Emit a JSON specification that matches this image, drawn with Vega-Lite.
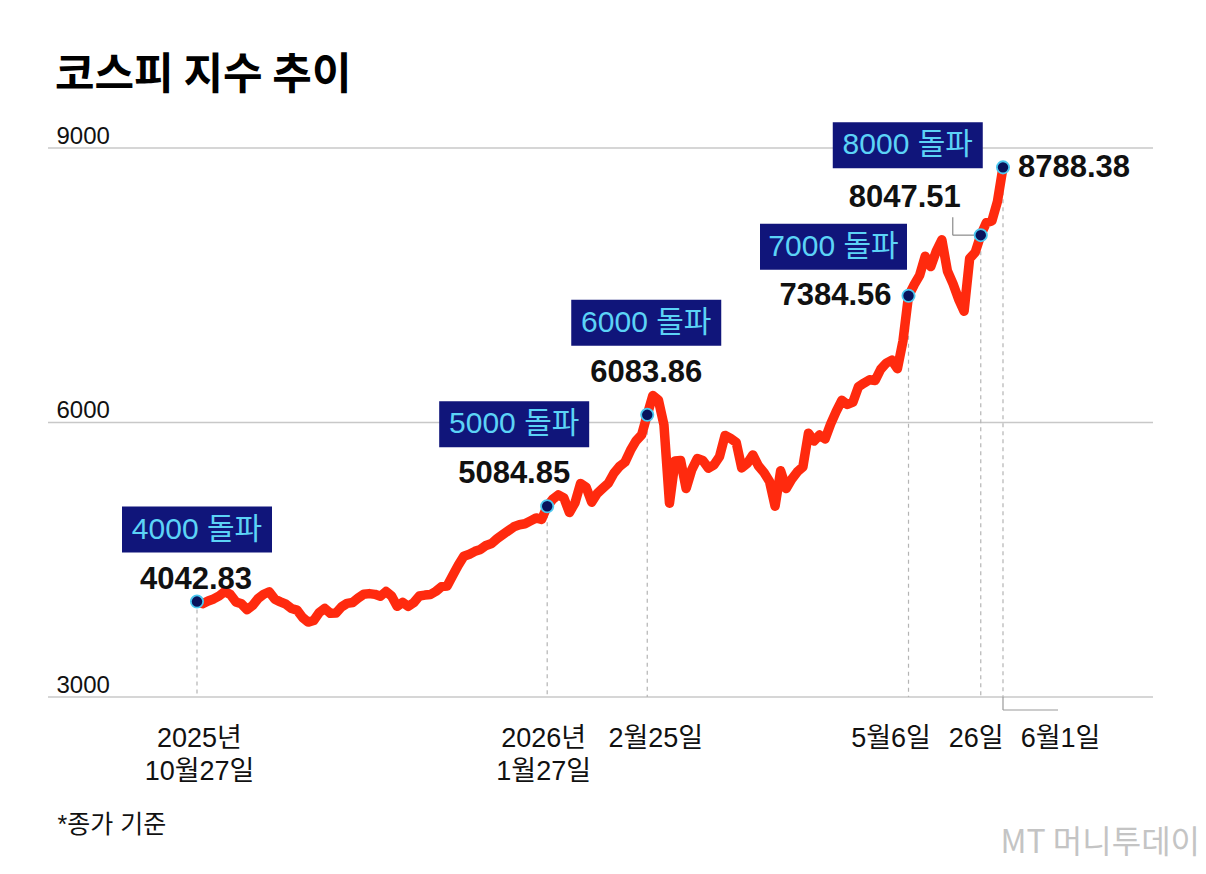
{
  "$schema": "https://vega.github.io/schema/vega-lite/v6.json",
  "description": "코스피 지수 추이 (종가 기준), 2025-10-27 ~ 2026-06-01",
  "width": 1105,
  "height": 549,
  "autosize": {"type": "none"},
  "padding": {"left": 48, "top": 148, "right": 53, "bottom": 177},
  "background": "white",
  "title": {
    "text": "코스피 지수 추이",
    "anchor": "start",
    "frame": "group",
    "dx": 7,
    "dy": 32,
    "offset": 22,
    "baseline": "alphabetic",
    "font": "Noto Sans CJK KR",
    "fontSize": 43,
    "fontWeight": "bold",
    "color": "#000000"
  },
  "datasets": {
    "grid": [{"level": 3000}, {"level": 6000}, {"level": 9000}],
    "kospi": [
      {"date": "2025-10-27", "close": 4042.83},
      {"date": "2025-10-28", "close": 4020},
      {"date": "2025-10-29", "close": 4050},
      {"date": "2025-10-30", "close": 4072},
      {"date": "2025-10-31", "close": 4105},
      {"date": "2025-11-03", "close": 4153},
      {"date": "2025-11-04", "close": 4120},
      {"date": "2025-11-05", "close": 4039},
      {"date": "2025-11-06", "close": 4018},
      {"date": "2025-11-07", "close": 3955},
      {"date": "2025-11-10", "close": 4000},
      {"date": "2025-11-11", "close": 4076},
      {"date": "2025-11-12", "close": 4123},
      {"date": "2025-11-13", "close": 4149},
      {"date": "2025-11-14", "close": 4069},
      {"date": "2025-11-17", "close": 4040},
      {"date": "2025-11-18", "close": 4014},
      {"date": "2025-11-19", "close": 3967},
      {"date": "2025-11-20", "close": 3950},
      {"date": "2025-11-21", "close": 3869},
      {"date": "2025-11-24", "close": 3819},
      {"date": "2025-11-25", "close": 3836},
      {"date": "2025-11-26", "close": 3923},
      {"date": "2025-11-27", "close": 3968},
      {"date": "2025-11-28", "close": 3914},
      {"date": "2025-12-01", "close": 3917},
      {"date": "2025-12-02", "close": 3985},
      {"date": "2025-12-03", "close": 4023},
      {"date": "2025-12-04", "close": 4033},
      {"date": "2025-12-05", "close": 4082},
      {"date": "2025-12-08", "close": 4123},
      {"date": "2025-12-09", "close": 4130},
      {"date": "2025-12-10", "close": 4122},
      {"date": "2025-12-11", "close": 4101},
      {"date": "2025-12-12", "close": 4153},
      {"date": "2025-12-15", "close": 4104},
      {"date": "2025-12-16", "close": 3991},
      {"date": "2025-12-17", "close": 4034},
      {"date": "2025-12-18", "close": 3991},
      {"date": "2025-12-19", "close": 4032},
      {"date": "2025-12-22", "close": 4104},
      {"date": "2025-12-23", "close": 4114},
      {"date": "2025-12-24", "close": 4120},
      {"date": "2025-12-26", "close": 4156},
      {"date": "2025-12-29", "close": 4206},
      {"date": "2025-12-30", "close": 4214},
      {"date": "2026-01-02", "close": 4328},
      {"date": "2026-01-05", "close": 4439},
      {"date": "2026-01-06", "close": 4538},
      {"date": "2026-01-07", "close": 4560},
      {"date": "2026-01-08", "close": 4592},
      {"date": "2026-01-09", "close": 4613},
      {"date": "2026-01-12", "close": 4656},
      {"date": "2026-01-13", "close": 4678},
      {"date": "2026-01-14", "close": 4731},
      {"date": "2026-01-15", "close": 4775},
      {"date": "2026-01-16", "close": 4817},
      {"date": "2026-01-19", "close": 4860},
      {"date": "2026-01-20", "close": 4882},
      {"date": "2026-01-21", "close": 4893},
      {"date": "2026-01-22", "close": 4925},
      {"date": "2026-01-23", "close": 4957},
      {"date": "2026-01-26", "close": 4940},
      {"date": "2026-01-27", "close": 5084.85},
      {"date": "2026-01-28", "close": 5161},
      {"date": "2026-01-29", "close": 5209},
      {"date": "2026-01-30", "close": 5176},
      {"date": "2026-02-02", "close": 5016},
      {"date": "2026-02-03", "close": 5122},
      {"date": "2026-02-04", "close": 5333},
      {"date": "2026-02-05", "close": 5293},
      {"date": "2026-02-06", "close": 5129},
      {"date": "2026-02-09", "close": 5224},
      {"date": "2026-02-10", "close": 5281},
      {"date": "2026-02-11", "close": 5336},
      {"date": "2026-02-12", "close": 5445},
      {"date": "2026-02-13", "close": 5519},
      {"date": "2026-02-19", "close": 5567},
      {"date": "2026-02-20", "close": 5697},
      {"date": "2026-02-23", "close": 5801},
      {"date": "2026-02-24", "close": 5867},
      {"date": "2026-02-25", "close": 6083.86},
      {"date": "2026-02-26", "close": 6294},
      {"date": "2026-02-27", "close": 6247},
      {"date": "2026-03-03", "close": 5976},
      {"date": "2026-03-04", "close": 5118},
      {"date": "2026-03-05", "close": 5579},
      {"date": "2026-03-06", "close": 5585},
      {"date": "2026-03-09", "close": 5279},
      {"date": "2026-03-10", "close": 5483},
      {"date": "2026-03-11", "close": 5606},
      {"date": "2026-03-12", "close": 5585},
      {"date": "2026-03-13", "close": 5501},
      {"date": "2026-03-16", "close": 5537},
      {"date": "2026-03-17", "close": 5627},
      {"date": "2026-03-18", "close": 5859},
      {"date": "2026-03-19", "close": 5825},
      {"date": "2026-03-20", "close": 5783},
      {"date": "2026-03-23", "close": 5504},
      {"date": "2026-03-24", "close": 5554},
      {"date": "2026-03-25", "close": 5646},
      {"date": "2026-03-26", "close": 5526},
      {"date": "2026-03-27", "close": 5454},
      {"date": "2026-03-30", "close": 5356},
      {"date": "2026-03-31", "close": 5086},
      {"date": "2026-04-01", "close": 5472},
      {"date": "2026-04-02", "close": 5279},
      {"date": "2026-04-03", "close": 5381},
      {"date": "2026-04-06", "close": 5461},
      {"date": "2026-04-07", "close": 5515},
      {"date": "2026-04-08", "close": 5883},
      {"date": "2026-04-09", "close": 5797},
      {"date": "2026-04-10", "close": 5863},
      {"date": "2026-04-13", "close": 5820},
      {"date": "2026-04-14", "close": 5985},
      {"date": "2026-04-15", "close": 6122},
      {"date": "2026-04-16", "close": 6243},
      {"date": "2026-04-17", "close": 6197},
      {"date": "2026-04-20", "close": 6223},
      {"date": "2026-04-21", "close": 6391},
      {"date": "2026-04-22", "close": 6431},
      {"date": "2026-04-23", "close": 6467},
      {"date": "2026-04-24", "close": 6460},
      {"date": "2026-04-27", "close": 6582},
      {"date": "2026-04-28", "close": 6649},
      {"date": "2026-04-29", "close": 6680},
      {"date": "2026-04-30", "close": 6588},
      {"date": "2026-05-04", "close": 6889},
      {"date": "2026-05-06", "close": 7384.56},
      {"date": "2026-05-07", "close": 7503},
      {"date": "2026-05-08", "close": 7608},
      {"date": "2026-05-11", "close": 7817},
      {"date": "2026-05-12", "close": 7704},
      {"date": "2026-05-13", "close": 7873},
      {"date": "2026-05-14", "close": 7997},
      {"date": "2026-05-15", "close": 7656},
      {"date": "2026-05-18", "close": 7517},
      {"date": "2026-05-19", "close": 7350},
      {"date": "2026-05-20", "close": 7216},
      {"date": "2026-05-21", "close": 7792},
      {"date": "2026-05-22", "close": 7859},
      {"date": "2026-05-26", "close": 8047.51},
      {"date": "2026-05-27", "close": 8185},
      {"date": "2026-05-28", "close": 8202},
      {"date": "2026-05-29", "close": 8415},
      {"date": "2026-06-01", "close": 8788.38}
    ],
    "milestones": [
      {"date": "2025-10-27", "close": 4042.83, "label": "4000 돌파"},
      {"date": "2026-01-27", "close": 5084.85, "label": "5000 돌파"},
      {"date": "2026-02-25", "close": 6083.86, "label": "6000 돌파"},
      {"date": "2026-05-06", "close": 7384.56, "label": "7000 돌파"},
      {"date": "2026-05-26", "close": 8047.51, "label": "8000 돌파"},
      {"date": "2026-06-01", "close": 8788.38, "label": ""}
    ]
  },
  "layer": [
    {
      "data": {"name": "grid"},
      "mark": {"type": "rule", "color": "#c8c8c8", "strokeWidth": 1.6},
      "encoding": {
        "y": {
          "field": "level",
          "type": "quantitative",
          "scale": {"domain": [3000, 9000], "nice": false, "zero": false},
          "axis": {
            "values": [3000, 6000, 9000],
            "format": "d",
            "labelAlign": "left",
            "labelBaseline": "alphabetic",
            "labelPadding": -8,
            "labelOffset": -5,
            "labelFontSize": 24,
            "labelColor": "#111111",
            "domain": false,
            "ticks": false,
            "tickSize": 0,
            "grid": false,
            "title": "MT 머니투데이",
            "titleAngle": 0,
            "titleX": 952,
            "titleY": 704,
            "titleAlign": "left",
            "titleBaseline": "alphabetic",
            "titleFont": "Noto Sans CJK KR",
            "titleFontSize": 32,
            "titleFontWeight": "normal",
            "titleColor": "#c4c4c4"
          }
        }
      }
    },
    {
      "encoding": {
        "x": {
          "field": "date",
          "type": "ordinal",
          "scale": {"type": "point", "padding": 0, "range": [149, 955]},
          "axis": {
            "values": ["2025-10-27", "2026-01-27", "2026-02-25", "2026-05-06", "2026-05-26", "2026-06-01"],
            "labelExpr": "datum.value == '2025-10-27' ? ['2025년', '10월27일'] : datum.value == '2026-01-27' ? ['2026년', '1월27일'] : datum.value == '2026-02-25' ? '2월25일' : datum.value == '2026-05-06' ? '5월6일' : datum.value == '2026-05-26' ? '26일' : '6월1일'",
            "labelOffset": {
              "condition": [
                {"test": "datum.value == '2026-06-01'", "value": 57},
                {"test": "datum.value == '2026-05-06'", "value": -18},
                {"test": "datum.value == '2026-02-25'", "value": 8},
                {"test": "datum.value == '2026-01-27'", "value": -4},
                {"test": "datum.value == '2026-05-26'", "value": -5}
              ],
              "value": 2
            },
            "labelAngle": 0,
            "labelFontSize": 27,
            "labelLineHeight": 33,
            "labelBaseline": "top",
            "labelPadding": 28,
            "labelOverlap": false,
            "labelBound": false,
            "labelColor": "#111111",
            "domain": false,
            "ticks": false,
            "tickSize": 0,
            "grid": false,
            "title": "*종가 기준",
            "titleX": 9,
            "titleY": 135,
            "titleAlign": "left",
            "titleAnchor": "start",
            "titleBaseline": "alphabetic",
            "titleFontSize": 25,
            "titleFontWeight": "normal",
            "titleColor": "#111111"
          }
        },
        "y": {"field": "close", "type": "quantitative"}
      },
      "layer": [
        {
          "data": {"name": "milestones"},
          "mark": {"type": "rule", "color": "#b4b4b4", "strokeWidth": 1.2, "strokeDash": [4, 4]},
          "encoding": {"y2": {"datum": 3000}}
        },
        {
          "data": {"name": "milestones"},
          "transform": [{"filter": "datum.date == '2026-06-01'"}],
          "layer": [
            {
              "mark": {"type": "rule", "color": "#9a9a9a", "strokeWidth": 1.2, "y2Offset": 13},
              "encoding": {"y": {"datum": 3000}, "y2": {"datum": 3000}}
            },
            {
              "mark": {"type": "rule", "color": "#9a9a9a", "strokeWidth": 1.2, "yOffset": 13, "y2Offset": 13, "x2Offset": 55},
              "encoding": {"y": {"datum": 3000}, "y2": {"datum": 3000}, "x2": {"field": "date"}}
            }
          ]
        },
        {
          "data": {"name": "milestones"},
          "transform": [{"filter": "datum.date == '2026-05-26'"}],
          "layer": [
            {
              "mark": {"type": "rule", "color": "#8a8a8a", "strokeWidth": 1.2, "x2Offset": -28},
              "encoding": {"x2": {"field": "date"}, "y2": {"field": "close"}}
            },
            {
              "mark": {"type": "rule", "color": "#8a8a8a", "strokeWidth": 1.2, "xOffset": -28, "x2Offset": -28, "y2Offset": -18},
              "encoding": {"x2": {"field": "date"}, "y2": {"field": "close"}}
            }
          ]
        },
        {
          "data": {"name": "kospi"},
          "mark": {"type": "line", "color": "#ff2a0e", "strokeWidth": 9.5, "strokeJoin": "round", "strokeCap": "round"}
        },
        {
          "data": {"name": "milestones"},
          "mark": {"type": "circle", "color": "#08135c", "opacity": 1, "size": 150, "stroke": "#4cc8ef", "strokeWidth": 1.8}
        },
        {
          "data": {"name": "milestones"},
          "transform": [{"filter": "datum.date == '2025-10-27'"}],
          "layer": [
            {"mark": {"type": "rect", "color": "#10157a", "width": 150, "height": 46, "yOffset": -72}},
            {"mark": {"type": "text", "color": "#5cd3f6", "fontSize": 30, "baseline": "middle", "dy": -72}, "encoding": {"text": {"field": "label"}}},
            {"mark": {"type": "text", "color": "#111111", "fontSize": 31, "fontWeight": "bold", "baseline": "alphabetic", "dx": -1, "dy": -13}, "encoding": {"text": {"field": "close", "format": ".2f"}}}
          ]
        },
        {
          "data": {"name": "milestones"},
          "transform": [{"filter": "datum.date == '2026-01-27'"}],
          "layer": [
            {"mark": {"type": "rect", "color": "#10157a", "width": 150, "height": 46, "xOffset": -33, "yOffset": -82}},
            {"mark": {"type": "text", "color": "#5cd3f6", "fontSize": 30, "baseline": "middle", "dx": -33, "dy": -82}, "encoding": {"text": {"field": "label"}}},
            {"mark": {"type": "text", "color": "#111111", "fontSize": 31, "fontWeight": "bold", "baseline": "alphabetic", "dx": -33, "dy": -23}, "encoding": {"text": {"field": "close", "format": ".2f"}}}
          ]
        },
        {
          "data": {"name": "milestones"},
          "transform": [{"filter": "datum.date == '2026-02-25'"}],
          "layer": [
            {"mark": {"type": "rect", "color": "#10157a", "width": 150, "height": 46, "xOffset": -1, "yOffset": -92}},
            {"mark": {"type": "text", "color": "#5cd3f6", "fontSize": 30, "baseline": "middle", "dx": -1, "dy": -92}, "encoding": {"text": {"field": "label"}}},
            {"mark": {"type": "text", "color": "#111111", "fontSize": 31, "fontWeight": "bold", "baseline": "alphabetic", "dx": -1, "dy": -33}, "encoding": {"text": {"field": "close", "format": ".2f"}}}
          ]
        },
        {
          "data": {"name": "milestones"},
          "transform": [{"filter": "datum.date == '2026-05-06'"}],
          "layer": [
            {"mark": {"type": "rect", "color": "#10157a", "width": 147, "height": 46, "xOffset": -75, "yOffset": -49}},
            {"mark": {"type": "text", "color": "#5cd3f6", "fontSize": 30, "baseline": "middle", "dx": -75, "dy": -49}, "encoding": {"text": {"field": "label"}}},
            {"mark": {"type": "text", "color": "#111111", "fontSize": 31, "fontWeight": "bold", "baseline": "alphabetic", "dx": -73, "dy": 9}, "encoding": {"text": {"field": "close", "format": ".2f"}}}
          ]
        },
        {
          "data": {"name": "milestones"},
          "transform": [{"filter": "datum.date == '2026-05-26'"}],
          "layer": [
            {"mark": {"type": "rect", "color": "#10157a", "width": 150, "height": 46, "xOffset": -73, "yOffset": -90}},
            {"mark": {"type": "text", "color": "#5cd3f6", "fontSize": 30, "baseline": "middle", "dx": -73, "dy": -90}, "encoding": {"text": {"field": "label"}}},
            {"mark": {"type": "text", "color": "#111111", "fontSize": 31, "fontWeight": "bold", "baseline": "alphabetic", "dx": -76, "dy": -28}, "encoding": {"text": {"field": "close", "format": ".2f"}}}
          ]
        },
        {
          "data": {"name": "milestones"},
          "transform": [{"filter": "datum.date == '2026-06-01'"}],
          "mark": {"type": "text", "color": "#111111", "fontSize": 31, "fontWeight": "bold", "align": "left", "baseline": "alphabetic", "dx": 15, "dy": 10},
          "encoding": {"text": {"field": "close", "format": ".2f"}}
        }
      ]
    }
  ],
  "config": {
    "view": {"stroke": null},
    "font": "Liberation Sans Narrow, Liberation Sans, Noto Sans CJK KR, sans-serif",
    "text": {"font": "Liberation Sans Narrow, Liberation Sans, Noto Sans CJK KR, sans-serif"},
    "axis": {
      "labelFont": "Liberation Sans Narrow, Liberation Sans, Noto Sans CJK KR, sans-serif",
      "titleFont": "Liberation Sans Narrow, Liberation Sans, Noto Sans CJK KR, sans-serif"
    }
  }
}
